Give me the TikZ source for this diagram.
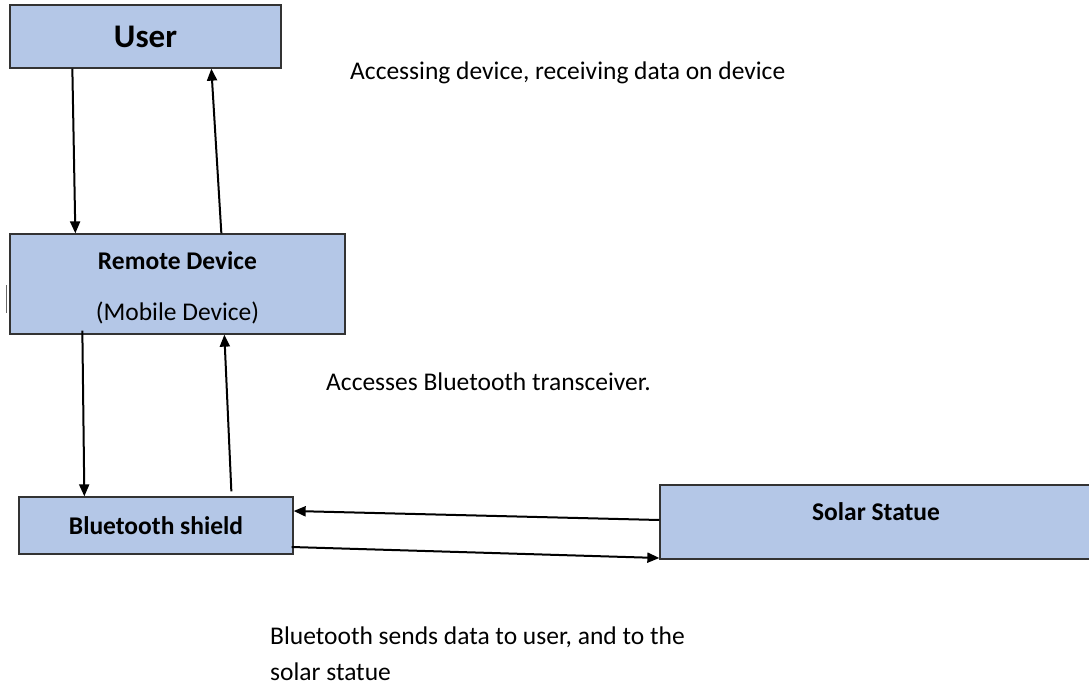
\documentclass[tikz,border=0pt]{standalone}
\usepackage{fontspec}
\setmainfont{Carlito}
\usetikzlibrary{arrows.meta}
\definecolor{boxblue}{RGB}{180,199,231}
\begin{document}
\begin{tikzpicture}[x=1pt, y=-1pt,
  box/.style={draw=black!80, line width=1.3pt, fill=boxblue, inner sep=0pt, font=\bfseries\fontsize{25.5}{30}\selectfont},
  boxtext/.style={inner sep=0pt, font=\bfseries\fontsize{25.5}{30}\selectfont},
  link/.style={-{Triangle[length=12pt,width=10pt]}, line width=2pt},
  note/.style={anchor=west, inner sep=0pt, font=\fontsize{25.5}{36}\selectfont}]
\useasboundingbox (0,0) rectangle (1089,685);
\node [box, minimum width=271pt, minimum height=63pt, font=\bfseries\fontsize{33}{40}\selectfont] (user) at (145.5,36.5) {User};
\node [box, minimum width=335pt, minimum height=100pt] (remote) at (177.5,284) {};
\node [boxtext, align=center] (remotetext) at ([yshift=-3.5pt]remote.center) {Remote Device\\[21pt]\mdseries(Mobile Device)};
\node [box, minimum width=274pt, minimum height=57pt] (bt) at (156,525.5) {Bluetooth shield};
\node [box, minimum width=436pt, minimum height=74pt] (solar) at (878,522) {};
\node [boxtext] (solartext) at ([xshift=-2pt,yshift=10pt]solar.center) {Solar Statue};
\draw [line width=0.8pt, black!60] (6,285) -- (6,313);
\draw [link] ([xshift=63pt]user.south west) -- ([xshift=66pt]remote.north west);
\draw [link] ([xshift=212pt]remote.north west) -- ([xshift=202pt]user.south west);
\draw [link] ([xshift=73pt,yshift=4pt]remote.south west) -- ([xshift=66pt]bt.north west);
\draw [link] ([xshift=213pt,yshift=5pt]bt.north west) -- ([xshift=215pt]remote.south west);
\draw [link] ([yshift=2pt]solar.west) -- ([yshift=14.5pt]bt.east);
\draw [link] ([xshift=-2pt,yshift=-21.5pt]bt.east) -- ([yshift=-36pt]solar.west);
\node [note] (access) at (350,73) {Accessing device, receiving data on device};
\node [note] (transceiver) at (326,382) {Accesses Bluetooth transceiver.};
\node [note, align=left] (sends) at (270,654) {Bluetooth sends data to user, and to the\\solar statue};
\end{tikzpicture}
\end{document}
